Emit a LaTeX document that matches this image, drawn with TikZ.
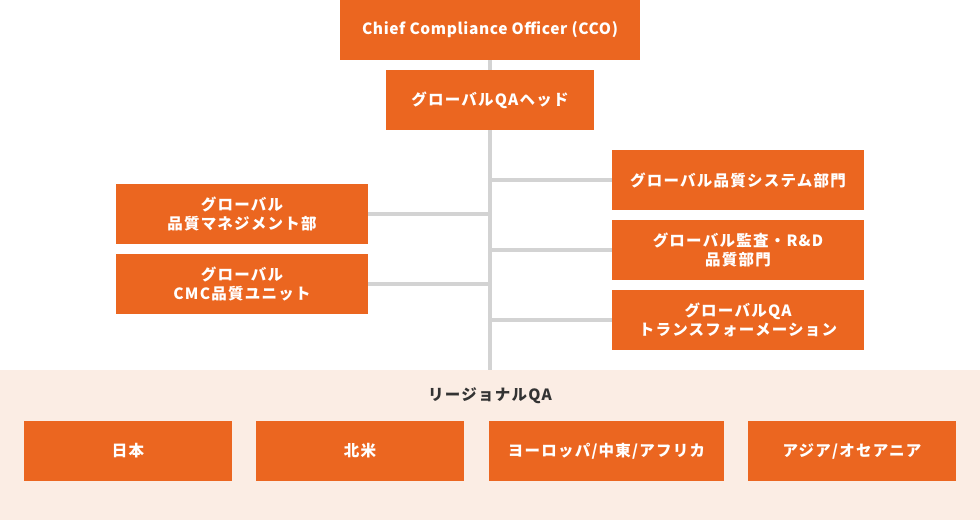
\documentclass[tikz,border=0pt]{standalone}
\usepackage{fontspec}
\setmainfont{Noto Sans CJK JP}[LetterSpace=8]
\usepackage{xcolor}
\usepackage{tikz}
\usetikzlibrary{positioning, calc}

\definecolor{qaorange}{HTML}{EB6620}
\definecolor{bandpink}{HTML}{FBEDE4}
\definecolor{trunkgray}{HTML}{D3D3D3}
\definecolor{labelgray}{HTML}{333333}

\begin{document}
\begin{tikzpicture}[x=1pt, y=-1pt,
    orgbox/.style={fill=qaorange, text=white, font=\fontsize{15.5}{19.5}\selectfont\bfseries,
      align=center, inner sep=0pt, minimum height=60pt},
    link/.style={draw=trunkgray, line width=4pt}]
      \useasboundingbox (0, 0) rectangle (980, 520);
      % regional band
      \fill[bandpink] (0, 370) rectangle (980, 520);

      \coordinate (trunkend) at (490, 370);
      \node[orgbox, minimum width=300pt] (cco) at (490, 30) {\addfontfeature{LetterSpace=4}Chief Compliance Officer (CCO)};
      \draw[link] (cco.south) -- (trunkend);
      \node[orgbox, minimum width=208pt] (head) at (490, 100) {グローバルQAヘッド};

      \node[orgbox, minimum width=252pt] (mgmt) at (242, 214) {グローバル\\品質マネジメント部};
      \node[orgbox, minimum width=252pt] (cmc) at (242, 284) {グローバル\\CMC品質ユニット};
      \draw[link] (mgmt.east) -- (mgmt.east -| trunkend);
      \draw[link] (cmc.east) -- (cmc.east -| trunkend);

      \node[orgbox, minimum width=252pt] (sys) at (738, 180) {グローバル品質システム部門};
      \node[orgbox, minimum width=252pt] (audit) at (738, 250) {グローバル監査・R\&D\\品質部門};
      \node[orgbox, minimum width=252pt] (trans) at (738, 320) {グローバルQA\\トランスフォーメーション};
      \draw[link] (sys.west) -- (sys.west -| trunkend);
      \draw[link] (audit.west) -- (audit.west -| trunkend);
      \draw[link] (trans.west) -- (trans.west -| trunkend);

      % regions
      \node[text=labelgray, font=\fontsize{15.5}{19.5}\selectfont\bfseries] (regional) at (490, 396) {リージョナルQA};
      \node[orgbox, minimum width=208pt] (japan) at (128, 451) {日本};
      \node[orgbox, minimum width=208pt] (namerica) at (360, 451) {北米};
      \node[orgbox, minimum width=235pt] (emea) at (606.5, 451) {ヨーロッパ/中東/アフリカ};
      \node[orgbox, minimum width=208pt] (apac) at (852, 451) {アジア/オセアニア};
    \end{tikzpicture}
\end{document}
